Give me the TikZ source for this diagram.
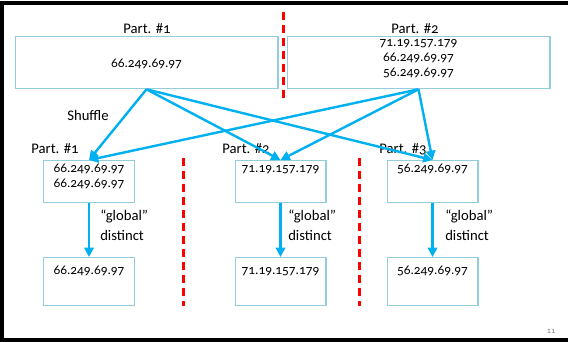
\documentclass[tikz,border=0pt]{standalone}
\usepackage{fontspec}
\setmainfont{Carlito}[Numbers=OldStyle]
\usepackage{tikz}
\usetikzlibrary{arrows.meta}
\definecolor{boxblue}{RGB}{147,205,221}
\definecolor{shuffleblue}{RGB}{0,176,240}

\tikzset{
  ip/.style={draw=boxblue, line width=1pt, anchor=north, align=center,
    inner xsep=2pt, font=\fontsize{10}{11.25}\selectfont},
  wide/.style={ip, minimum width=197pt, inner ysep=3pt},
  narrow/.style={ip, minimum width=68pt, inner ysep=2pt},
  lbl/.style={inner sep=0pt, font=\fontsize{11}{15}\selectfont},
  shuffle/.style={draw=shuffleblue, line width=1.8pt, -{Triangle[length=7pt,width=7pt]}},
  cut/.style={draw=red, line width=2.25pt, dash pattern=on 6pt off 3.75pt}
}

\begin{document}
\begin{tikzpicture}[x=0.75pt, y=-0.75pt]
  \useasboundingbox (0,0) rectangle (568,342);
  \draw[line width=3pt] (572,3) -- (2,3) -- (2,339.5) -- (572,339.5);

  % partitions before the shuffle
  \node[wide, text height=20pt, text depth=13pt] (t1) at (146.5,36) {66.249.69.97};
  \node[wide, text height=27pt, text depth=6pt] (t2) at (418.5,36)
    {71.19.157.179\\66.249.69.97\\56.249.69.97};
  \node[lbl] (p1) at (147,29) {Part. \#1};
  \node[lbl] (p2) at (415,29) {Part. \#2};
  \draw[cut] (283,12) -- (283,98);

  \node[lbl] (shuf) at (88,115) {Shuffle};

  % partitions after the shuffle
  \node[narrow, text height=18.25pt, text depth=9.25pt] (m1) at (89,160)
    {66.249.69.97\\66.249.69.97};
  \node[narrow, text height=7pt, text depth=20.5pt] (m2) at (280.5,160) {71.19.157.179};
  \node[narrow, text height=7pt, text depth=20.5pt] (m3) at (432.5,160) {56.249.69.97};
  \node[lbl] (q1) at (55,149) {Part. \#1};
  \node[lbl] (q2) at (246,149) {Part. \#2};
  \node[lbl] (q3) at (403,149) {Part. \#3};

  % results
  \node[narrow, text height=10.75pt, text depth=21.25pt] (r1) at (89,257) {66.249.69.97};
  \node[narrow, text height=10.75pt, text depth=21.25pt] (r2) at (280.5,257) {71.19.157.179};
  \node[narrow, text height=10.75pt, text depth=21.25pt] (r3) at (432.5,257) {56.249.69.97};

  \foreach \s in {t1,t2}
    \foreach \d in {m1,m2,m3}
      \draw[shuffle] (\s.south) -- (\d.north);
  \foreach \i in {1,2,3}
    \draw[shuffle] (m\i.south) -- (r\i.north);

  \node[lbl, anchor=west, align=left] (g1) at (100,225) {“global”\\distinct};
  \node[lbl, anchor=west, align=left] (g2) at (288,225) {“global”\\distinct};
  \node[lbl, anchor=west, align=left] (g3) at (445,225) {“global”\\distinct};

  \draw[cut] (183,158) -- (183,306);
  \draw[cut] (359,158) -- (359,306);

  \node[inner sep=0pt, text=gray, font=\fontsize{6}{6}\selectfont] (page) at (551,331) {11};
\end{tikzpicture}
\end{document}
